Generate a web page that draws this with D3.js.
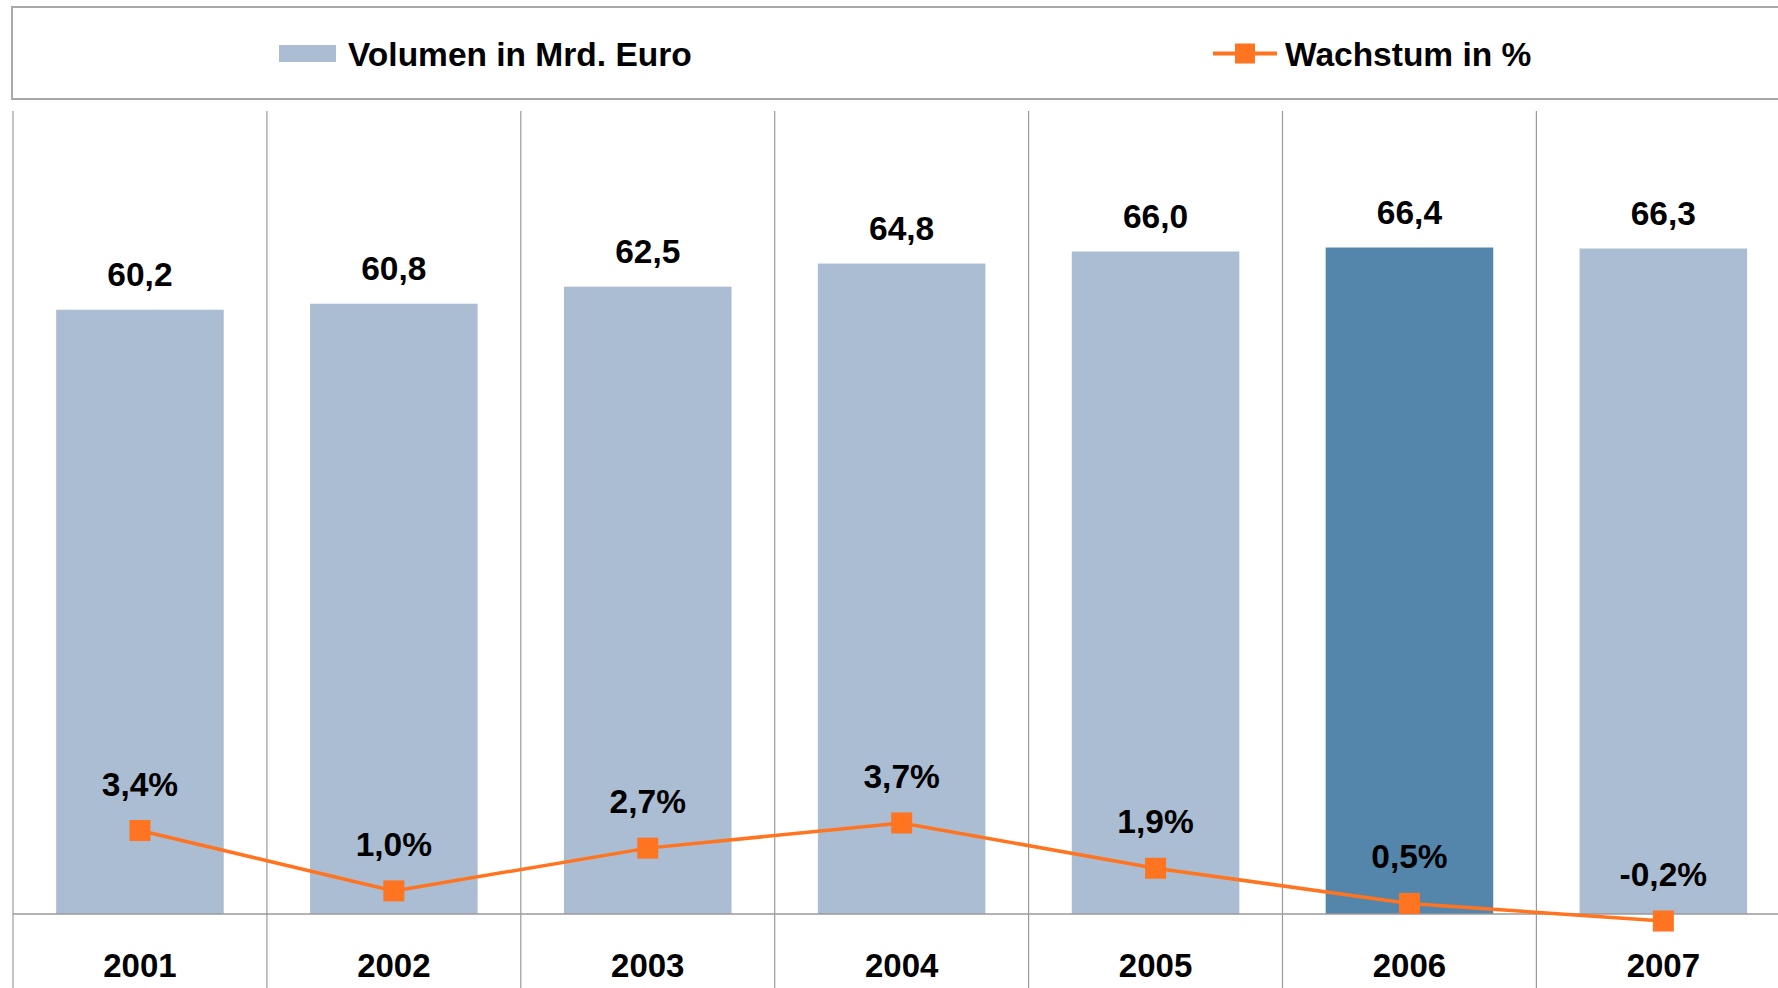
<!DOCTYPE html>
<html>
<head>
<meta charset="utf-8">
<script src="https://cdn.jsdelivr.net/npm/d3@7"></script>
<style>
  html, body { margin: 0; padding: 0; background: #fff; }
  svg text { font-family: "Liberation Sans", Arial, sans-serif; font-weight: bold; fill: #000; }
</style>
</head>
<body>
<svg id="chart" width="1778" height="988"></svg>
<script>
// data
const years = ["2001", "2002", "2003", "2004", "2005", "2006", "2007"];
const volumen = [60.2, 60.8, 62.5, 64.8, 66.0, 66.4, 66.3];
const wachstum = [3.4, 1.0, 2.7, 3.7, 1.9, 0.5, -0.2];
const highlightYear = "2006";
const legendLabels = ["Volumen in Mrd. Euro", "Wachstum in %"];

const colBar = "#abbdd2", colBarHi = "#5486ab", colLine = "#ff7420", colGrid = "#9a9a9a";

const de = d3.formatLocale({decimal: ",", thousands: ".", grouping: [3], currency: ["", " €"], minus: "-"});
const fmt1 = de.format(".1f");

const svg = d3.select("#chart");
const plotLeft = 13, step = 253.9;
const plotTop = 111, base = 914;
const plotRight = plotLeft + step * years.length;   // plot runs past the right edge

const x = d3.scaleBand().domain(years).range([plotLeft, plotRight]);
const xBar = d3.scaleBand().domain(years).range([plotLeft, plotRight]).paddingInner(0.34).paddingOuter(0.17);
const y = d3.scaleLinear().domain([0, 80]).range([base, plotTop]);
// secondary axis for the growth line (not drawn)
const y2 = d3.scaleLinear().domain([0.08, 32.02]).range([base, plotTop]);

// legend box
const lg = svg.append("g");
lg.append("rect").attr("x", 12).attr("y", 7).attr("width", 1800).attr("height", 92)
  .attr("fill", "#fff").attr("stroke", "#a8a8a8").attr("stroke-width", 2);
lg.append("rect").attr("x", 279).attr("y", 45).attr("width", 57).attr("height", 17).attr("fill", colBar);
lg.append("text").attr("x", 348).attr("y", 66).style("font-size", "33.5px").text(legendLabels[0]);
lg.append("line").attr("x1", 1213).attr("x2", 1277).attr("y1", 53.5).attr("y2", 53.5)
  .attr("stroke", colLine).attr("stroke-width", 4);
lg.append("rect").attr("x", 1235).attr("y", 43.5).attr("width", 20).attr("height", 20).attr("fill", colLine);
lg.append("text").attr("x", 1285).attr("y", 66).style("font-size", "33.5px").text(legendLabels[1]);

// category separators
const seps = years.map(d => x(d)).concat([plotRight]);
svg.append("g").selectAll("line").data(seps).join("line")
  .attr("x1", d => d).attr("x2", d => d).attr("y1", plotTop).attr("y2", 988)
  .attr("stroke", colGrid).attr("stroke-width", 1.2);

// bars
svg.append("g").selectAll("rect").data(years).join("rect")
  .attr("x", d => xBar(d))
  .attr("y", (d, i) => y(volumen[i]))
  .attr("width", xBar.bandwidth())
  .attr("height", (d, i) => base - y(volumen[i]))
  .attr("fill", d => d === highlightYear ? colBarHi : colBar);

// baseline
svg.append("line").attr("x1", plotLeft).attr("x2", plotRight).attr("y1", base).attr("y2", base)
  .attr("stroke", colGrid).attr("stroke-width", 1.5);

// bar labels
svg.append("g").selectAll("text").data(years).join("text")
  .attr("x", d => x(d) + x.bandwidth() / 2)
  .attr("y", (d, i) => y(volumen[i]) - 24)
  .attr("text-anchor", "middle").style("font-size", "33.5px")
  .text((d, i) => fmt1(volumen[i]));

// growth line
const pts = years.map((d, i) => [x(d) + x.bandwidth() / 2, y2(wachstum[i])]);
svg.append("path").attr("d", d3.line()(pts))
  .attr("fill", "none").attr("stroke", colLine).attr("stroke-width", 3.5);
svg.append("g").selectAll("rect").data(pts).join("rect")
  .attr("x", d => d[0] - 10.5).attr("y", d => d[1] - 10.5)
  .attr("width", 21).attr("height", 21).attr("fill", colLine);
svg.append("g").selectAll("text").data(pts).join("text")
  .attr("x", d => d[0]).attr("y", d => d[1] - 35)
  .attr("text-anchor", "middle").style("font-size", "33.5px")
  .text((d, i) => fmt1(wachstum[i]) + "%");

// x axis labels
const xAxis = svg.append("g").attr("transform", `translate(0,${base})`)
  .call(d3.axisBottom(x).tickSize(0).tickPadding(40));
xAxis.select(".domain").remove();
xAxis.selectAll("text").attr("font-family", null).attr("font-size", null)
  .style("font-size", "33px").attr("fill", "#000");
</script>
</body>
</html>
